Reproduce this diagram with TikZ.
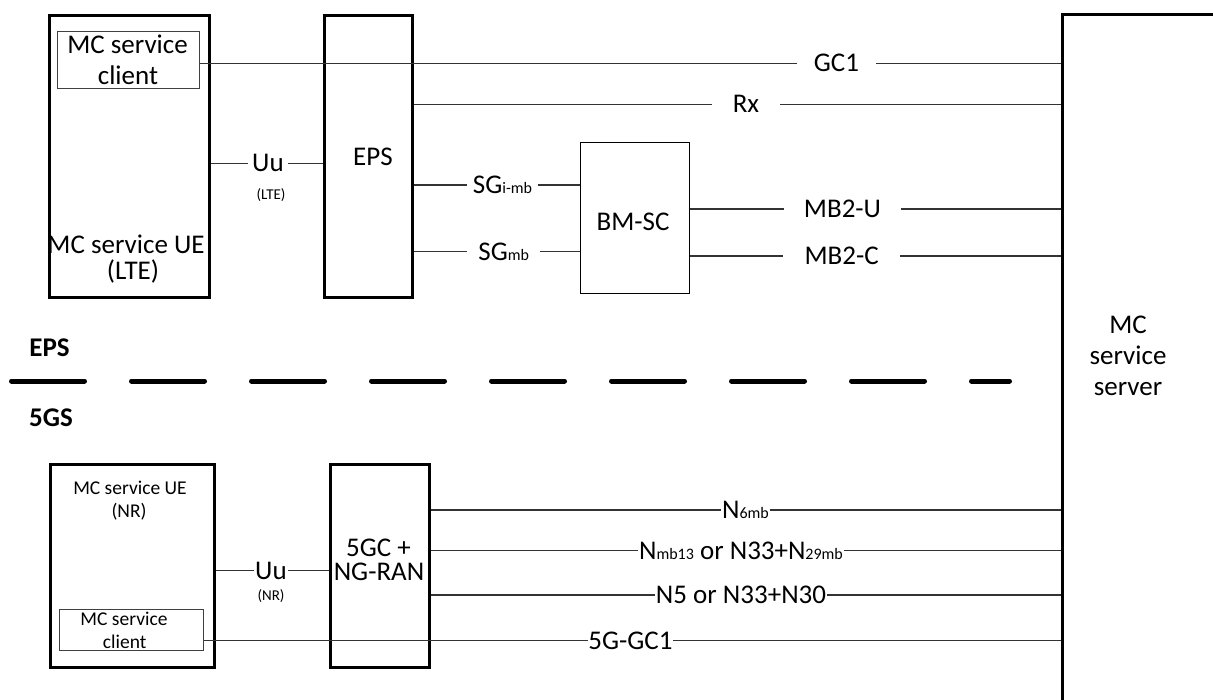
\documentclass[tikz,border=0pt]{standalone}
\usepackage{fontspec}
\setmainfont{Carlito}
\newcommand\mysub[1]{{\fontsize{16}{16}\selectfont #1}}
\begin{document}
\begin{tikzpicture}[x=1pt,y=-1pt,
  thickbox/.style={draw, line width=3pt, inner sep=0pt, anchor=north west},
  thinbox/.style={draw, line width=1.1pt, inner sep=0pt, anchor=north west},
  clbox/.style={draw=black!75, line width=1pt, inner sep=0pt, anchor=north west},
  conn/.style={line width=1.1pt, draw=black!80},
  big/.style={font=\fontsize{27}{32}\selectfont, inner sep=0pt, anchor=base},
  tight/.style={text height=17pt, text depth=0pt},
  mid/.style={font=\fontsize{19.5}{23}\selectfont, inner sep=0pt, anchor=base},
  tiny/.style={font=\fontsize{15}{17}\selectfont, inner sep=0pt},
  bigb/.style={font=\fontsize{27}{32}\selectfont\bfseries, inner sep=0pt, anchor=base},
  lbl/.style={font=\fontsize{27}{32}\selectfont, fill=white, text height=17pt, text depth=0pt, inner ysep=2pt, inner xsep=#1},
  lbl/.default=1pt,
  sep/.style={line width=5pt, line cap=round, dash pattern=on 73pt off 47pt}]
\useasboundingbox (0,0) rectangle (1213,699);

% boxes
\node[thickbox, minimum width=160.8pt, minimum height=281.5pt] (ue1) at (47.5,14.2) {};
\node[clbox, minimum width=142.3pt, minimum height=56.7pt] (cl1) at (56.7,31) {};
\node[thickbox, minimum width=88.5pt, minimum height=281.5pt] (eps) at (322.5,14.2) {};
\node[thinbox, minimum width=108.7pt, minimum height=151.6pt] (bmsc) at (580,141.7) {};
\node[thickbox, minimum width=170pt, minimum height=700pt] (srv) at (1060.7,12.5) {};
\node[thickbox, minimum width=164.2pt, minimum height=203pt] (ue2) at (48.8,463) {};
\node[clbox, minimum width=144.3pt, minimum height=41pt] (cl2) at (59,609.3) {};
\node[thickbox, minimum width=98.7pt, minimum height=203pt] (ngc) at (329,463) {};

% box texts
\node[big] (t1a) at (127.5,53.3) {MC service};
\node[big] (t1b) at (128,84) {client};
\node[big] (t2a) at (126,253) {MC service UE};
\node[big] (t2b) at (133,279) {(LTE)};
\node[big] (t3) at (373,165) {EPS};
\node[big] (t4) at (633,230.7) {BM-SC};
\node[big] (t5a) at (1128,333) {MC};
\node[big] (t5b) at (1128,364) {service};
\node[big] (t5c) at (1128,395) {server};
\node[mid] (t6a) at (130,494) {MC service UE};
\node[mid] (t6b) at (129,517.5) {(NR)};
\node[mid] (t7a) at (124,625) {MC service};
\node[mid] (t7b) at (124.7,648) {client};
\node[big, tight] (t8a) at (378.5,556) {5GC +};
\node[big, tight] (t8b) at (379,580.5) {NG-RAN};

% section labels and separator
\node[bigb] (seps) at (49.5,356) {EPS};
\node[bigb] (s5gs) at (51,426.7) {5GS};
\coordinate (sepL) at (11.5,381);
\coordinate (sepR) at (1009.5,381);
\draw[sep] (sepL) -- (sepR);

% interface labels
\node[lbl=17pt] (gc1) at (836.5,63.3) {GC1};
\node[lbl=21pt] (rx) at (746,104.3) {Rx};
\node[lbl=4pt] (uu1) at (268,163.3) {Uu};
\node[tiny] (lte) at (271,195) {(LTE)};
\node[lbl=6pt] (sgimb) at (502.5,185) {SG\mysub{i-mb}};
\node[lbl=11pt] (sgmb) at (503.7,251.7) {SG\mysub{mb}};
\node[lbl=20pt] (mb2u) at (842.5,209) {MB2-U};
\node[lbl=21pt] (mb2c) at (841.7,256) {MB2-C};
\node[lbl=1pt] (uu2) at (271,570.7) {Uu};
\node[tiny] (nr) at (271,595.7) {(NR)};
\node[lbl=0.5pt] (n6mb) at (745.5,510) {N\mysub{6mb}};
\node[lbl=0.5pt] (nmb13) at (741,550.5) {N\mysub{mb13} or N33+N\mysub{29mb}};
\node[lbl=0.5pt] (n5) at (741,595) {N5 or N33+N30};
\node[lbl=0.5pt] (gc5g) at (630.5,640.7) {5G-GC1};

% connectors
\draw[conn] (cl1.east |- gc1) -- (gc1.west);
\draw[conn] (gc1.east) -- (srv.west |- gc1);
\draw[conn] (eps.east |- rx) -- (rx.west);
\draw[conn] (rx.east) -- (srv.west |- rx);
\draw[conn] (ue1.east |- uu1) -- (uu1.west);
\draw[conn] (uu1.east) -- (eps.west |- uu1);
\draw[conn] (eps.east |- sgimb) -- (sgimb.west);
\draw[conn] (sgimb.east) -- (bmsc.west |- sgimb);
\draw[conn] (eps.east |- sgmb) -- (sgmb.west);
\draw[conn] (sgmb.east) -- (bmsc.west |- sgmb);
\draw[conn] (bmsc.east |- mb2u) -- (mb2u.west);
\draw[conn] (mb2u.east) -- (srv.west |- mb2u);
\draw[conn] (bmsc.east |- mb2c) -- (mb2c.west);
\draw[conn] (mb2c.east) -- (srv.west |- mb2c);
\draw[conn] (ue2.east |- uu2) -- (uu2.west);
\draw[conn] (uu2.east) -- (ngc.west |- uu2);
\draw[conn] (ngc.east |- n6mb) -- (n6mb.west);
\draw[conn] (n6mb.east) -- (srv.west |- n6mb);
\draw[conn] (ngc.east |- nmb13) -- (nmb13.west);
\draw[conn] (nmb13.east) -- (srv.west |- nmb13);
\draw[conn] (ngc.east |- n5) -- (n5.west);
\draw[conn] (n5.east) -- (srv.west |- n5);
\draw[conn] (cl2.east |- gc5g) -- (gc5g.west);
\draw[conn] (gc5g.east) -- (srv.west |- gc5g);
\end{tikzpicture}
\end{document}
